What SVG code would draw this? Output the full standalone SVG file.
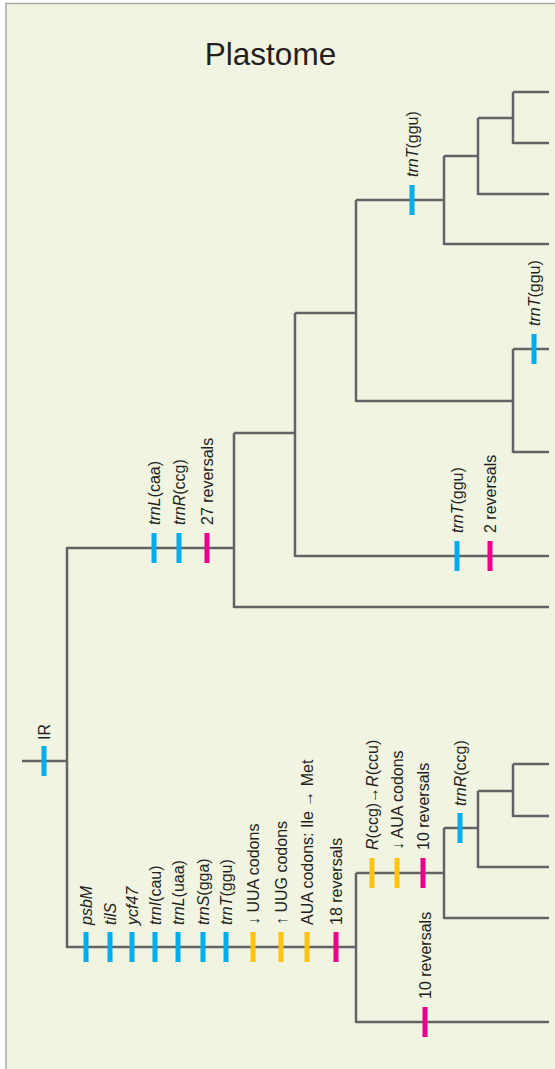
<svg xmlns="http://www.w3.org/2000/svg" width="555" height="1069" viewBox="0 0 555 1069">
  <style>
    .panel { fill: #f0f4e0; stroke: #a9aaa8; stroke-width: 1.5; }
    .title { font-family: "Liberation Sans", Arial, sans-serif; font-size: 31.5px; fill: #231f20; }
    .branch { fill: none; stroke: #616365; stroke-width: 2.5; stroke-linecap: butt; stroke-linejoin: miter; }
    .lbl { font-family: "Liberation Sans", Arial, sans-serif; font-size: 16px; fill: #231f20; }
    .it { font-style: italic; }
    .gene { fill: #00aeef; }
    .codon { fill: #ffc20e; }
    .rev { fill: #ec008c; }
  </style>
  <defs>
    <rect id="tick" x="-2.5" y="-15" width="5" height="30"/>
  </defs>

  <!-- panel -->
  <rect class="panel" x="6" y="3.5" width="560" height="1080"/>
  <text class="title" x="270.5" y="65" text-anchor="middle">Plastome</text>

  <!-- tree edges -->
  <g id="connectors" class="branch">
    <!-- root and IR stem -->
    <path d="M22,761 H67"/>
    <path d="M67,547 V948"/>
    <!-- upper clade -->
    <path d="M67,548 H234"/>
    <path d="M234,433 V608"/>
    <path d="M234,607 H549"/>
    <path d="M234,433 H295"/>
    <path d="M295,313 V557"/>
    <path d="M295,556 H549"/>
    <path d="M295,313 H356"/>
    <path d="M356,200 V402"/>
    <path d="M356,200 H444"/>
    <path d="M444,156 V245"/>
    <path d="M444,244 H549"/>
    <path d="M444,156 H478"/>
    <path d="M478,118 V195"/>
    <path d="M478,194 H549"/>
    <path d="M478,118 H513"/>
    <path d="M513,92 V144"/>
    <path d="M513,92 H549"/>
    <path d="M513,143 H549"/>
    <path d="M356,401 H513"/>
    <path d="M513,349 V453"/>
    <path d="M513,349 H549"/>
    <path d="M513,452 H549"/>
    <!-- lower clade -->
    <path d="M67,947 H356"/>
    <path d="M356,873 V1023"/>
    <path d="M356,1022 H549"/>
    <path d="M356,873 H444"/>
    <path d="M444,828 V919"/>
    <path d="M444,918 H549"/>
    <path d="M444,828 H478"/>
    <path d="M478,791 V868"/>
    <path d="M478,867 H549"/>
    <path d="M478,791 H513"/>
    <path d="M513,764 V817"/>
    <path d="M513,764 H549"/>
    <path d="M513,816 H549"/>
  </g>

  <!-- character-state marks with their labels -->
  <g id="ir">
    <use href="#tick" class="gene" x="44" y="761"/>
    <text class="lbl" transform="translate(44,740) rotate(-90)" y="5.5">IR</text>
  </g>

  <g id="upper-stem">
    <use href="#tick" class="gene" x="154" y="548"/>
    <text class="lbl" transform="translate(154,525) rotate(-90)" y="5.5"><tspan class="it">trnL</tspan>(caa)</text>
    <use href="#tick" class="gene" x="179" y="548"/>
    <text class="lbl" transform="translate(179,525) rotate(-90)" y="5.5"><tspan class="it">trnR</tspan>(ccg)</text>
    <use href="#tick" class="rev" x="207" y="548"/>
    <text class="lbl" transform="translate(207,525) rotate(-90)" y="5.5">27 reversals</text>
  </g>

  <g id="leaf-556">
    <use href="#tick" class="gene" x="457" y="556"/>
    <text class="lbl" transform="translate(457,533) rotate(-90)" y="5.5"><tspan class="it">trnT</tspan>(ggu)</text>
    <use href="#tick" class="rev" x="490" y="556"/>
    <text class="lbl" transform="translate(490,533) rotate(-90)" y="5.5">2 reversals</text>
  </g>

  <g id="node-200">
    <use href="#tick" class="gene" x="412" y="200"/>
    <text class="lbl" transform="translate(412,177) rotate(-90)" y="5.5"><tspan class="it">trnT</tspan>(ggu)</text>
  </g>

  <g id="leaf-349">
    <use href="#tick" class="gene" x="534" y="349"/>
    <text class="lbl" transform="translate(534,326) rotate(-90)" y="5.5"><tspan class="it">trnT</tspan>(ggu)</text>
  </g>

  <g id="lower-stem">
    <use href="#tick" class="gene" x="86" y="947"/>
    <text class="lbl" transform="translate(86,925) rotate(-90)" y="5.5"><tspan class="it">psbM</tspan></text>
    <use href="#tick" class="gene" x="110" y="947"/>
    <text class="lbl" transform="translate(110,925) rotate(-90)" y="5.5"><tspan class="it">tilS</tspan></text>
    <use href="#tick" class="gene" x="132" y="947"/>
    <text class="lbl" transform="translate(132,925) rotate(-90)" y="5.5"><tspan class="it">ycf47</tspan></text>
    <use href="#tick" class="gene" x="155" y="947"/>
    <text class="lbl" transform="translate(155,925) rotate(-90)" y="5.5"><tspan class="it">trnI</tspan>(cau)</text>
    <use href="#tick" class="gene" x="178" y="947"/>
    <text class="lbl" transform="translate(178,925) rotate(-90)" y="5.5"><tspan class="it">trnL</tspan>(uaa)</text>
    <use href="#tick" class="gene" x="203" y="947"/>
    <text class="lbl" transform="translate(203,925) rotate(-90)" y="5.5"><tspan class="it">trnS</tspan>(gga)</text>
    <use href="#tick" class="gene" x="226" y="947"/>
    <text class="lbl" transform="translate(226,925) rotate(-90)" y="5.5"><tspan class="it">trnT</tspan>(ggu)</text>
    <use href="#tick" class="codon" x="253" y="947"/>
    <text class="lbl" transform="translate(253,925) rotate(-90)" y="5.5">↓ UUA codons</text>
    <use href="#tick" class="codon" x="281" y="947"/>
    <text class="lbl" transform="translate(281,925) rotate(-90)" y="5.5">↑ UUG codons</text>
    <use href="#tick" class="codon" x="307" y="947"/>
    <text class="lbl" transform="translate(307,925) rotate(-90)" y="5.5">AUA codons: Ile → Met</text>
    <use href="#tick" class="rev" x="336" y="947"/>
    <text class="lbl" transform="translate(336,925) rotate(-90)" y="5.5">18 reversals</text>
  </g>

  <g id="node-873">
    <use href="#tick" class="codon" x="372" y="873"/>
    <text class="lbl" transform="translate(372,850) rotate(-90)" y="5.5"><tspan class="it">R</tspan>(ccg)→<tspan class="it">R</tspan>(ccu)</text>
    <use href="#tick" class="codon" x="397" y="873"/>
    <text class="lbl" transform="translate(397,850) rotate(-90)" y="5.5">↓ AUA codons</text>
    <use href="#tick" class="rev" x="423" y="873"/>
    <text class="lbl" transform="translate(423,850) rotate(-90)" y="5.5">10 reversals</text>
  </g>

  <g id="node-828">
    <use href="#tick" class="gene" x="460" y="828"/>
    <text class="lbl" transform="translate(460,806) rotate(-90)" y="5.5"><tspan class="it">trnR</tspan>(ccg)</text>
  </g>

  <g id="leaf-1022">
    <use href="#tick" class="rev" x="425" y="1022"/>
    <text class="lbl" transform="translate(425,999) rotate(-90)" y="5.5">10 reversals</text>
  </g>
</svg>
